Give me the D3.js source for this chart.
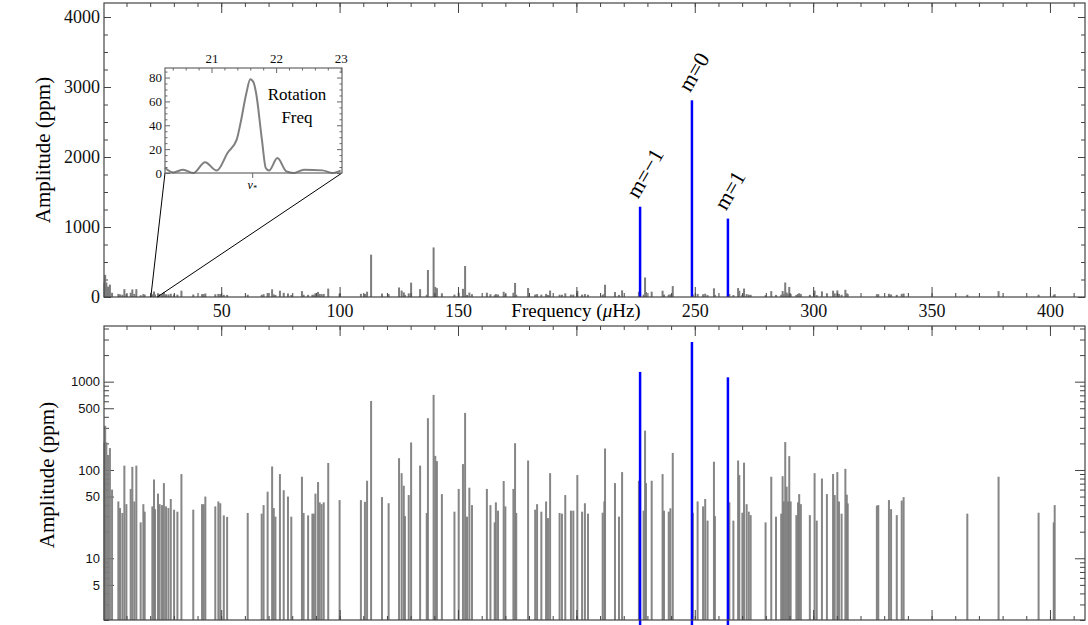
<!DOCTYPE html>
<html>
<head>
<meta charset="utf-8">
<script src="https://cdn.jsdelivr.net/npm/d3@7"></script>
<style>
    html, body { margin: 0; padding: 0; background: #fff; }
    svg { display: block; }
</style>
</head>
<body>
<div id="js-chart"></div>
<script>
// 峰值频率 (μHz) 与振幅 (ppm)
var peakFreq = [0.7, 1.0, 1.5, 2.2, 3.0, 3.9,
    6.56, 7.26, 8.25, 9.1, 9.95, 11.77, 12.47, 13.32, 14.16, 15.99, 17.12, 17.68,
    20.92, 21.62, 22.05, 23.3, 24.0, 25.0, 25.8, 26.7, 27.7, 28.7, 30.1, 31.5, 33.2,
    38.2, 41.9, 42.6, 43.3, 47.5, 48.8, 49.6, 51.1, 52.5, 61.2, 67.1, 67.9, 69.6,
    71.5, 72.2, 72.9, 74.8, 76.4, 78.2, 79.6, 84.1, 84.8, 86.7, 88.5, 89.1, 89.8,
    90.9, 91.6, 92.4, 93.3, 95.2, 100.0,
    109.0, 110.7, 111.6, 113.3, 117.9, 120.7, 125.1, 126.2, 127.1, 127.6, 129.2,
    130.2, 134.0, 136.8, 137.3, 139.7, 140.4, 141.1, 143.2, 148.5, 150.3, 152.1,
    153.0, 153.8, 154.8, 155.9, 162.2, 163.7, 165.5, 166.0, 166.9, 169.3, 170.0,
    173.4, 174.1, 174.6, 179.6, 182.6, 183.4, 185.2, 187.2, 188.0, 188.9, 192.9,
    193.9, 195.3, 197.7, 198.7, 200.4, 202.4, 203.6, 204.9,
    211.1, 211.8, 212.1, 216.3, 218.0, 219.3, 226.4, 228.4, 229.0, 229.4, 231.8,
    236.4, 237.0, 239.0, 239.7, 240.7, 249.2, 251.2, 253.5, 254.4, 255.4, 258.1,
    258.5, 264.6, 266.3, 268.3, 268.8, 270.1, 270.8, 271.9, 272.8, 273.6, 279.9,
    282.3, 284.3, 286.5, 287.1, 287.6, 288.2, 288.8, 289.4, 289.9, 290.5, 292.9,
    293.6, 294.1, 294.8, 298.6, 300.6, 301.5, 303.7, 305.8, 308.4, 309.1, 310.2,
    310.9, 312.0, 313.6, 314.2, 314.6, 326.9, 327.5, 332.0, 332.9, 335.3, 337.4,
    338.2, 365.1, 378.3, 395.2, 401.6, 402.0];
var peakAmp = [205, 316, 205, 148, 177, 60,
    44, 37, 32.6, 112, 41, 61, 108.6, 44, 112, 25.5, 41, 33.7,
    38.7, 78, 36, 54, 41, 40, 71, 38.7, 37, 46.9, 35.5, 33.7, 89.8,
    35.5, 41, 41, 50, 38.7, 44, 42, 30.6, 29.4, 32.6, 32, 40, 56.7,
    109.6, 37, 29.6, 89.8, 59, 50, 29.6, 83.8, 32.6, 30.6, 32, 32, 54,
    73, 43, 41, 43, 120, 45.6,
    45.6, 43.6, 75.5, 605, 49.3, 42, 136, 92, 66.3, 30, 52,
    205, 112, 32.6, 386, 708, 144.5, 126, 53.3, 33.7, 61, 116.6,
    443, 29.6, 63, 40, 61, 40, 25.5, 43, 34.6, 75, 38.7,
    61, 201, 32.6, 128, 35.5, 41, 33.7, 44, 28.5, 92, 32.6,
    32, 52, 34.6, 34.6, 87.5, 33.7, 42, 32,
    32.8, 44, 175, 71, 29.6, 94.6, 75.5, 34.6, 279, 71, 75.5,
    89.8, 34.6, 33.7, 36.8, 156, 32.8, 44, 38.7, 46.9, 26.7, 124,
    30, 43, 26.7, 128, 87.5, 32.8, 121, 41, 33.7, 30.8, 25.5,
    83.8, 29.6, 32, 85, 44, 207, 64.6, 44, 143.6, 44, 30.8,
    43, 53.3, 41, 30.8, 92, 26.7, 80, 53.3, 90, 52, 94.6,
    44, 32, 103, 52.5, 41.8, 39.5, 40, 45.6, 36, 30.8, 45,
    49.3, 32, 83.8, 32.8, 25.5, 40];

// 分裂模式 (蓝色)
var modeFreq = [226.9, 248.8, 264.0];
var modeAmp = [1290, 2810, 1120];
var modeLabel = ["m=\u22121", "m=0", "m=1"];

// 插图: 自转频率附近
var insetFreq = [20.28, 20.41, 20.56, 20.72, 20.9, 21.08, 21.25, 21.39, 21.45, 21.54,
    21.6, 21.65, 21.69, 21.78, 21.84, 21.89, 22.02, 22.16, 22.27, 22.43, 22.72, 22.87, 23.0];
var insetAmp = [4.2, 0.5, 2.8, 0, 9, 2, 17, 28, 42, 67,
    78.6, 76, 67, 28, 4.2, 2, 12.5, 1.3, 0, 2.8, 2.2, 0, 2];
var rotFreq = 21.63;

// 刻度
var linTicks = [0, 1000, 2000, 3000, 4000];
var logTicks = [5, 10, 50, 100, 500, 1000];
var freqTicks = [50, 100, 150, 200, 250, 300, 350, 400];
var insetYTicks = [0, 20, 40, 60, 80];
var insetXTicks = [21, 22, 23];

var serif = "'Liberation Serif', 'DejaVu Serif', serif";
var sans = "'Liberation Sans', Arial, sans-serif";
var frameColor = "#444";
var barColor = "#7c7c7c";

var peaks = peakFreq.map(function (f, i) { return {f: f, a: peakAmp[i]}; });
var modes = modeFreq.map(function (f, i) { return {f: f, a: modeAmp[i], label: modeLabel[i]}; });

var svg = d3.select("#js-chart").append("svg")
    .attr("width", 1088)
    .attr("height", 625);

var x = d3.scaleLinear().domain([0.5, 414.8]).range([104, 1085]);
var yTop = d3.scaleLinear().domain([0, 4200]).range([297, 3]);
var yLog = d3.scaleLog().domain([2, 4270]).range([620, 326]);

// 画坐标轴 (刻度朝内)
function addAxis(axis, tx, ty) {
    var a = svg.append("g")
        .attr("transform", "translate(" + tx + "," + ty + ")")
        .call(axis);
    a.select(".domain").remove();
    a.selectAll("line").attr("stroke", frameColor);
    return a;
}

function frame(xs, ys) {
    svg.append("rect")
        .attr("x", xs.range()[0])
        .attr("y", ys.range()[1])
        .attr("width", xs.range()[1] - xs.range()[0])
        .attr("height", ys.range()[0] - ys.range()[1])
        .attr("fill", "none")
        .attr("stroke", frameColor)
        .attr("stroke-width", 1.2);
}

function freqAxes(ys, labels) {
    var minor = d3.range(10, 415, 10);
    var major = d3.range(50, 415, 50);
    addAxis(d3.axisBottom(x).tickValues(minor).tickSize(-4).tickFormat(""), 0, ys.range()[0]);
    addAxis(d3.axisTop(x).tickValues(minor).tickSize(-4).tickFormat(""), 0, ys.range()[1]);
    addAxis(d3.axisTop(x).tickValues(major).tickSize(-10).tickFormat(""), 0, ys.range()[1]);
    var b = addAxis(d3.axisBottom(x).tickValues(major).tickSize(-10)
        .tickPadding(7)
        .tickFormat(function (d) {
            return labels && freqTicks.indexOf(d) >= 0 && d !== 200 ? d : "";
        }), 0, ys.range()[0]);
    b.selectAll("text")
        .attr("font-family", serif)
        .attr("font-size", 18)
        .attr("fill", "#111");
}

// 上图: 线性振幅
function drawTop() {
    var minorY = d3.range(250, 4200, 250);
    addAxis(d3.axisLeft(yTop).tickValues(minorY).tickSize(-4).tickFormat(""), 104, 0);
    addAxis(d3.axisRight(yTop).tickValues(minorY).tickSize(-4).tickFormat(""), 1085, 0);
    addAxis(d3.axisRight(yTop).tickValues(linTicks).tickSize(-7).tickFormat(""), 1085, 0);
    var l = addAxis(d3.axisLeft(yTop).tickValues(linTicks).tickSize(-7).tickPadding(4)
        .tickFormat(d3.format("d")), 104, 0);
    l.selectAll("text")
        .attr("font-family", serif)
        .attr("font-size", 18)
        .attr("fill", "#111");

    svg.append("g").selectAll("rect")
        .data(peaks)
        .enter().append("rect")
        .attr("x", function (d) { return x(d.f) - 1; })
        .attr("y", function (d) { return yTop(d.a); })
        .attr("width", 2)
        .attr("height", function (d) { return yTop(0) - yTop(d.a); })
        .attr("fill", barColor);

    svg.append("g").selectAll("line")
        .data(modes)
        .enter().append("line")
        .attr("x1", function (d) { return x(d.f); })
        .attr("x2", function (d) { return x(d.f); })
        .attr("y1", yTop(0))
        .attr("y2", function (d) { return yTop(d.a); })
        .attr("stroke", "#0000ff")
        .attr("stroke-width", 2.5);

    svg.append("g").selectAll("text")
        .data(modes)
        .enter().append("text")
        .attr("transform", function (d) {
            return "translate(" + (x(d.f) - 2) + "," + (yTop(d.a) - 7) + ") rotate(-60)";
        })
        .attr("font-family", serif)
        .attr("font-size", 22)
        .attr("fill", "#000")
        .text(function (d) { return d.label; });

    frame(x, yTop);
    freqAxes(yTop, true);

    svg.append("text")
        .attr("transform", "translate(50,150) rotate(-90)")
        .attr("text-anchor", "middle")
        .attr("font-family", serif)
        .attr("font-size", 21)
        .text("Amplitude (ppm)");

    var fl = svg.append("text")
        .attr("x", 576)
        .attr("y", 317)
        .attr("text-anchor", "middle")
        .attr("font-family", serif)
        .attr("font-size", 19);
    fl.append("tspan").text("Frequency (");
    fl.append("tspan").attr("font-style", "italic").text("\u03bc");
    fl.append("tspan").text("Hz)");
}

// 下图: 对数振幅
function drawBottom() {
    var minor = [];
    [1, 10, 100, 1000].forEach(function (dec) {
        d3.range(2, 10).forEach(function (k) {
            var v = dec * k;
            if (v >= 2 && v <= 4270 && logTicks.indexOf(v) < 0) minor.push(v);
        });
    });
    addAxis(d3.axisLeft(yLog).tickValues(minor).tickSize(-5).tickFormat(""), 104, 0);
    var l = addAxis(d3.axisLeft(yLog).tickValues(logTicks).tickSize(-10).tickPadding(4)
        .tickFormat(d3.format("d")), 104, 0);
    l.selectAll("text")
        .attr("font-family", sans)
        .attr("font-size", 13)
        .attr("fill", "#111");
    addAxis(d3.axisRight(yLog).tickValues(minor.concat([5, 50, 500])).tickSize(-5).tickFormat(""), 1085, 0);
    addAxis(d3.axisRight(yLog).tickValues([10, 100, 1000]).tickSize(-10).tickFormat(""), 1085, 0);

    svg.append("g").selectAll("rect")
        .data(peaks)
        .enter().append("rect")
        .attr("x", function (d) { return x(d.f) - 1; })
        .attr("y", function (d) { return yLog(d.a); })
        .attr("width", 2)
        .attr("height", function (d) { return yLog.range()[0] - yLog(d.a); })
        .attr("fill", barColor)
        .attr("fill-opacity", 0.92);

    svg.append("g").selectAll("line")
        .data(modes)
        .enter().append("line")
        .attr("x1", function (d) { return x(d.f); })
        .attr("x2", function (d) { return x(d.f); })
        .attr("y1", yLog.range()[0] + 5)
        .attr("y2", function (d) { return yLog(d.a); })
        .attr("stroke", "#0000ff")
        .attr("stroke-width", 2.5);

    frame(x, yLog);
    freqAxes(yLog, false);

    svg.append("text")
        .attr("transform", "translate(54,475) rotate(-90)")
        .attr("text-anchor", "middle")
        .attr("font-family", serif)
        .attr("font-size", 21)
        .text("Amplitude (ppm)");
}

// 插图
function drawInset() {
    var ix = d3.scaleLinear().domain([20.28, 23.02]).range([165, 342]);
    var iy = d3.scaleLinear().domain([0, 88]).range([173, 68]);

    // 放大连线
    [ix.domain()[0], ix.domain()[1]].forEach(function (f) {
        svg.append("line")
            .attr("x1", x(f)).attr("y1", yTop(0))
            .attr("x2", ix(f)).attr("y2", iy(0))
            .attr("stroke", "#000")
            .attr("stroke-width", 1);
    });

    svg.append("rect")
        .attr("x", 165).attr("y", 68)
        .attr("width", 177).attr("height", 105)
        .attr("fill", "#fff");

    function inAxis(axis, tx, ty) {
        var a = svg.append("g")
            .attr("transform", "translate(" + tx + "," + ty + ")")
            .call(axis);
        a.select(".domain").remove();
        a.selectAll("line").attr("stroke", "#666");
        a.selectAll("text")
            .attr("font-family", serif)
            .attr("font-size", 13)
            .attr("fill", "#111");
        return a;
    }

    var minorY = d3.range(5, 88, 5).filter(function (v) { return v % 20 !== 0; });
    var minorX = d3.range(20.4, 23.01, 0.2).filter(function (v) { return Math.abs(v - Math.round(v)) > 0.05; });
    inAxis(d3.axisLeft(iy).tickValues(minorY).tickSize(-2.5).tickFormat(""), 165, 0);
    inAxis(d3.axisRight(iy).tickValues(minorY).tickSize(-2.5).tickFormat(""), 342, 0);
    inAxis(d3.axisLeft(iy).tickValues(insetYTicks).tickSize(-5).tickPadding(3), 165, 0);
    inAxis(d3.axisRight(iy).tickValues(insetYTicks).tickSize(-5).tickFormat(""), 342, 0);
    inAxis(d3.axisTop(ix).tickValues(minorX).tickSize(-2.5).tickFormat(""), 0, 68);
    inAxis(d3.axisTop(ix).tickValues(insetXTicks).tickSize(-5).tickPadding(5).tickFormat(d3.format("d")), 0, 68);
    inAxis(d3.axisBottom(ix).tickValues([rotFreq]).tickSize(5).tickFormat(""), 0, 173);

    var nu = svg.append("text")
        .attr("x", ix(rotFreq))
        .attr("y", 189)
        .attr("text-anchor", "middle")
        .attr("font-family", serif)
        .attr("font-size", 12)
        .attr("font-style", "italic");
    nu.append("tspan").text("\u03bd");
    nu.append("tspan").attr("font-size", 8).attr("dy", 2).text("*");

    var pts = insetFreq.map(function (f, i) { return [f, insetAmp[i]]; });
    svg.append("path")
        .datum(pts)
        .attr("d", d3.line()
            .x(function (d) { return ix(d[0]); })
            .y(function (d) { return iy(d[1]); })
            .curve(d3.curveMonotoneX))
        .attr("fill", "none")
        .attr("stroke", "#808080")
        .attr("stroke-width", 2);

    svg.append("rect")
        .attr("x", 165).attr("y", 68)
        .attr("width", 177).attr("height", 105)
        .attr("fill", "none")
        .attr("stroke", "#666")
        .attr("stroke-width", 1.2);

    svg.append("text")
        .attr("x", 297).attr("y", 100)
        .attr("text-anchor", "middle")
        .attr("font-family", serif)
        .attr("font-size", 17)
        .text("Rotation");
    svg.append("text")
        .attr("x", 297).attr("y", 123)
        .attr("text-anchor", "middle")
        .attr("font-family", serif)
        .attr("font-size", 17)
        .text("Freq");
}

drawTop();
drawInset();
drawBottom();
</script>
</body>
</html>
